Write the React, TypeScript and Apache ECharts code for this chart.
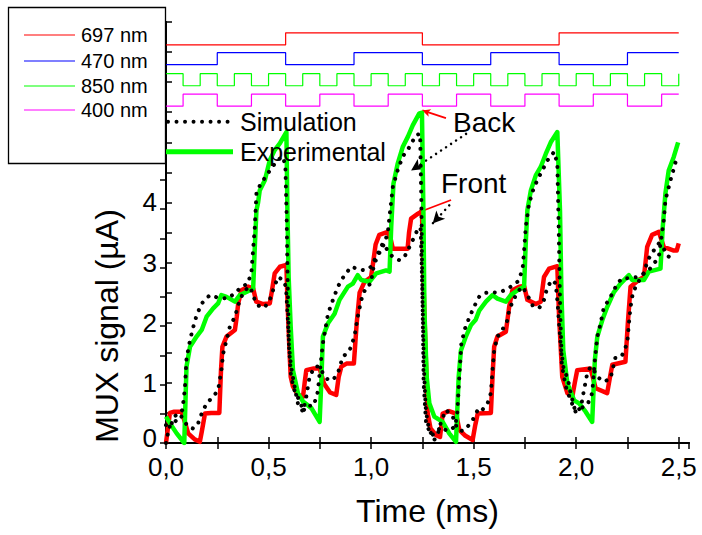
import React, { useEffect, useRef } from "react";
import * as echarts from "echarts";

const FONT = "'Liberation Sans', Arial, Helvetica, sans-serif";

// Square-wave control signals: edge times in twelfths of a millisecond
const edges697 = [7, 15, 23];
const edges470 = [3, 7, 11, 15, 19, 23, 27];
const edges850 = [1, 2, 3, 4, 5, 6, 7, 8, 9, 10, 11, 12, 13, 14, 15, 16, 17, 18, 19, 20, 21, 22, 23, 24, 25, 26, 27, 28, 29, 30];
const edges400 = [1, 3, 5, 7, 9, 11, 13, 15, 17, 19, 21, 23, 25, 27, 29];
const start697 = 0, start470 = 0, start850 = 1, start400 = 0;
// low / high levels (y units)
const levels697 = [6.62, 6.82];
const levels470 = [6.29, 6.49];
const levels850 = [5.94, 6.14];
const levels400 = [5.6, 5.8];
const waveNames = ["697 nm", "470 nm", "850 nm", "400 nm"];
const waveColors = ["#ff0000", "#0000ff", "#00ff00", "#ff00ff"];

// Experimental (Front = red, Back = green)
const frontExp: number[][] = [
  [0, 0], [0.019, 0.5], [0.04, 0.52], [0.076, 0.52], [0.092, 0.35], [0.108, 0.16], [0.14, 0.06], [0.165, 0.02],
  [0.175, 0.2], [0.19, 0.49], [0.22, 0.5], [0.26, 0.5], [0.268, 1.2], [0.275, 1.6], [0.295, 1.77], [0.336, 1.88],
  [0.345, 2.1], [0.352, 2.32], [0.368, 2.54], [0.4, 2.6], [0.425, 2.57], [0.44, 2.35], [0.473, 2.31], [0.506, 2.32],
  [0.515, 2.5], [0.53, 2.82], [0.555, 2.93], [0.587, 2.96], [0.592, 2.4], [0.6, 1.7], [0.608, 1.1], [0.619, 0.94],
  [0.643, 0.8], [0.668, 0.77], [0.676, 1.0], [0.684, 1.21], [0.72, 1.24], [0.749, 1.24], [0.77, 0.99], [0.8, 0.84],
  [0.83, 0.8], [0.842, 1.1], [0.855, 1.27], [0.88, 1.32], [0.916, 1.32], [0.93, 2.0], [0.944, 2.5], [0.968, 2.68],
  [1.0, 2.76], [1.01, 3.0], [1.022, 3.3], [1.04, 3.46], [1.081, 3.51], [1.095, 3.4], [1.106, 3.23], [1.178, 3.23],
  [1.185, 3.5], [1.195, 3.73], [1.227, 3.81], [1.248, 3.84], [1.256, 2.6], [1.265, 1.6], [1.276, 0.49], [1.29, 0.24],
  [1.317, 0.13], [1.336, 0.1], [1.343, 0.3], [1.349, 0.49], [1.38, 0.53], [1.414, 0.49], [1.43, 0.22], [1.46, 0.12],
  [1.495, 0.05], [1.508, 0.3], [1.52, 0.49], [1.584, 0.5], [1.592, 1.1], [1.6, 1.6], [1.616, 1.77], [1.657, 1.85],
  [1.665, 2.05], [1.673, 2.26], [1.689, 2.54], [1.722, 2.6], [1.746, 2.61], [1.762, 2.38], [1.803, 2.31], [1.827, 2.35],
  [1.835, 2.55], [1.843, 2.76], [1.868, 2.9], [1.908, 2.94], [1.916, 2.15], [1.932, 1.1], [1.957, 0.83], [1.981, 0.77],
  [1.993, 1.0], [2.005, 1.21], [2.07, 1.24], [2.095, 0.91], [2.151, 0.83], [2.165, 1.1], [2.176, 1.3], [2.24, 1.35],
  [2.252, 2.0], [2.265, 2.6], [2.305, 2.71], [2.33, 2.76], [2.338, 3.0], [2.346, 3.26], [2.37, 3.46], [2.403, 3.51],
  [2.427, 3.26], [2.476, 3.2], [2.49, 3.2], [2.5, 3.32],
];

const backExp: number[][] = [
  [0, 0.44], [0.019, 0.33], [0.052, 0.16], [0.089, 0.0], [0.095, 0.7], [0.1, 1.27], [0.117, 1.6], [0.149, 1.77],
  [0.174, 1.88], [0.198, 2.1], [0.23, 2.24], [0.254, 2.32], [0.27, 2.46], [0.295, 2.43], [0.336, 2.35], [0.36, 2.46],
  [0.392, 2.51], [0.425, 2.57], [0.433, 3.26], [0.441, 3.87], [0.449, 4.0], [0.457, 4.2], [0.482, 4.37], [0.506, 4.7],
  [0.53, 4.87], [0.555, 4.98], [0.587, 5.17], [0.592, 3.87], [0.598, 2.76], [0.608, 1.93], [0.619, 1.21], [0.643, 0.83],
  [0.668, 0.69], [0.709, 0.58], [0.749, 0.35], [0.757, 1.0], [0.765, 1.77], [0.79, 1.99], [0.822, 2.15], [0.846, 2.38],
  [0.887, 2.6], [0.911, 2.65], [0.935, 2.79], [0.952, 2.71], [0.992, 2.68], [1.025, 2.82], [1.073, 2.87], [1.09, 2.85],
  [1.098, 3.59], [1.109, 4.31], [1.13, 4.65], [1.154, 4.92], [1.179, 5.09], [1.203, 5.28], [1.235, 5.48], [1.248, 5.49],
  [1.255, 3.87], [1.26, 2.21], [1.271, 1.1], [1.284, 0.66], [1.308, 0.44], [1.349, 0.35], [1.381, 0.16], [1.414, 0.02],
  [1.427, 1.1], [1.438, 1.54], [1.462, 1.77], [1.487, 1.96], [1.51, 2.05], [1.527, 2.2], [1.56, 2.35], [1.592, 2.46],
  [1.616, 2.4], [1.657, 2.35], [1.681, 2.46], [1.714, 2.54], [1.746, 2.6], [1.754, 3.32], [1.762, 3.87], [1.779, 4.2],
  [1.803, 4.45], [1.827, 4.59], [1.852, 4.81], [1.876, 5.0], [1.908, 5.17], [1.921, 3.87], [1.928, 2.49], [1.937, 1.54],
  [1.957, 0.99], [1.99, 0.71], [2.014, 0.66], [2.046, 0.52], [2.078, 0.35], [2.091, 1.38], [2.103, 1.77], [2.127, 2.04],
  [2.151, 2.26], [2.184, 2.51], [2.216, 2.65], [2.257, 2.79], [2.273, 2.71], [2.33, 2.71], [2.354, 2.85], [2.411, 2.9],
  [2.422, 3.59], [2.435, 4.15], [2.451, 4.53], [2.476, 4.76], [2.497, 5.0],
];

// Simulations (dotted)
const backSim: number[][] = [
  [0, 0.3], [0.02, 0.27], [0.044, 0.45], [0.068, 0.5], [0.08, 0.55], [0.092, 0.9], [0.1, 1.4], [0.117, 1.71],
  [0.133, 1.93], [0.149, 2.12], [0.174, 2.32], [0.214, 2.46], [0.25, 2.42], [0.3, 2.4], [0.34, 2.5], [0.368, 2.6],
  [0.4, 2.65], [0.417, 2.87], [0.433, 3.59], [0.441, 4.15], [0.46, 4.3], [0.49, 4.45], [0.52, 4.6], [0.55, 4.72],
  [0.571, 4.76], [0.582, 4.59], [0.588, 3.8], [0.594, 2.5], [0.6, 1.6], [0.61, 1.1], [0.63, 0.83], [0.655, 0.69],
  [0.668, 0.52], [0.684, 0.62], [0.72, 0.62], [0.74, 0.85], [0.749, 1.16], [0.765, 1.66], [0.79, 2.15], [0.814, 2.38],
  [0.838, 2.6], [0.87, 2.79], [0.903, 2.93], [0.93, 2.9], [0.968, 2.87], [1.0, 2.93], [1.025, 3.1], [1.05, 3.2],
  [1.081, 3.48], [1.093, 3.87], [1.106, 4.26], [1.13, 4.54], [1.154, 4.76], [1.187, 4.92], [1.219, 5.12], [1.239, 5.14],
  [1.245, 4.0], [1.25, 2.5], [1.256, 1.0], [1.268, 0.33], [1.292, 0.13], [1.31, 0.15], [1.341, 0.27], [1.37, 0.2],
  [1.41, 0.27], [1.42, 0.5], [1.43, 1.1], [1.44, 1.66], [1.46, 1.93], [1.487, 2.15], [1.51, 2.32], [1.527, 2.43],
  [1.55, 2.49], [1.58, 2.51], [1.62, 2.5], [1.66, 2.55], [1.69, 2.62], [1.714, 2.68], [1.738, 2.87], [1.746, 3.2],
  [1.754, 3.59], [1.77, 3.98], [1.795, 4.26], [1.827, 4.48], [1.86, 4.7], [1.892, 4.84], [1.908, 4.65], [1.915, 3.5],
  [1.922, 2.2], [1.93, 1.3], [1.949, 0.94], [1.973, 0.71], [1.997, 0.52], [2.022, 0.58], [2.054, 0.63], [2.078, 0.83],
  [2.091, 1.38], [2.103, 1.77], [2.119, 1.99], [2.135, 2.26], [2.16, 2.38], [2.184, 2.54], [2.2, 2.65], [2.224, 2.74],
  [2.26, 2.74], [2.297, 2.76], [2.33, 2.82], [2.36, 2.9], [2.403, 3.09], [2.411, 3.32], [2.427, 3.7], [2.435, 4.04],
  [2.46, 4.37], [2.487, 4.7],
];

const frontSim: number[][] = [
  [0, 0], [0.016, 0.27], [0.036, 0.3], [0.06, 0.44], [0.075, 0.44], [0.092, 0.35], [0.108, 0.27], [0.133, 0.24],
  [0.157, 0.33], [0.174, 0.49], [0.198, 0.66], [0.23, 0.77], [0.254, 0.88], [0.27, 1.21], [0.279, 1.49], [0.295, 1.71],
  [0.311, 1.93], [0.336, 2.1], [0.36, 2.38], [0.384, 2.54], [0.41, 2.6], [0.433, 2.38], [0.457, 2.26], [0.482, 2.26],
  [0.506, 2.38], [0.522, 2.54], [0.546, 2.76], [0.571, 2.71], [0.585, 2.6], [0.595, 2.0], [0.6, 1.6], [0.61, 1.27],
  [0.63, 0.88], [0.643, 0.66], [0.668, 0.52], [0.684, 0.77], [0.7, 1.1], [0.725, 1.27], [0.749, 1.27], [0.765, 1.16],
  [0.79, 1.05], [0.814, 1.05], [0.838, 1.16], [0.862, 1.43], [0.895, 1.54], [0.919, 1.77], [0.935, 2.1], [0.952, 2.38],
  [0.976, 2.6], [1.0, 2.65], [1.008, 2.87], [1.033, 3.15], [1.057, 3.32], [1.081, 3.2], [1.106, 3.09], [1.138, 3.04],
  [1.162, 3.09], [1.187, 3.26], [1.211, 3.43], [1.232, 3.59], [1.242, 3.55], [1.25, 2.5], [1.258, 1.2], [1.266, 0.6],
  [1.276, 0.33], [1.292, 0.16], [1.308, 0.05], [1.325, 0.15], [1.341, 0.35], [1.365, 0.55], [1.398, 0.44], [1.422, 0.22],
  [1.446, 0.2], [1.47, 0.27], [1.495, 0.38], [1.52, 0.55], [1.535, 0.52], [1.568, 0.66], [1.584, 0.83], [1.592, 1.21],
  [1.6, 1.54], [1.616, 1.77], [1.64, 1.88], [1.665, 2.04], [1.673, 2.21], [1.69, 2.35], [1.714, 2.51], [1.738, 2.6],
  [1.762, 2.46], [1.787, 2.29], [1.819, 2.24], [1.843, 2.38], [1.86, 2.6], [1.884, 2.71], [1.9, 2.65], [1.91, 2.3],
  [1.925, 1.6], [1.94, 1.2], [1.957, 1.1], [1.973, 0.83], [1.99, 0.6], [1.997, 0.52], [2.022, 0.58], [2.038, 0.88],
  [2.054, 1.16], [2.07, 1.27], [2.086, 1.21], [2.103, 1.1], [2.135, 1.02], [2.167, 1.07], [2.192, 1.43], [2.224, 1.46],
  [2.249, 1.66], [2.257, 1.99], [2.265, 2.26], [2.276, 2.49], [2.297, 2.65], [2.33, 2.82], [2.346, 3.01], [2.362, 3.12],
  [2.378, 3.2], [2.403, 3.32], [2.427, 3.23], [2.443, 3.12], [2.476, 3.04],
];

// Annotation arrows (data coordinates): [from, to]
const backArrowRed = [[1.365, 5.4], [1.25, 5.53]];
const backArrowSim = [[1.463, 5.14], [1.195, 4.53]];
const frontArrowRed = [[1.39, 4.04], [1.22, 3.82]];
const frontArrowSim = [[1.381, 3.95], [1.3, 3.65]];

const xMax = 2.55;
const yMax = 7;
const yMaxRight = 7.2;
const tEnd = 2.5;

function stepData(edges: number[], start: number, levels: number[]) {
  let s = start;
  const out: number[][] = [[0, levels[s]]];
  for (const e of edges) {
    s = 1 - s;
    out.push([e / 12, levels[s]]);
  }
  if (out[out.length - 1][0] < tEnd) out.push([tEnd, levels[s]]);
  return out;
}

function isMult(v: number, step: number) {
  const r = v / step;
  return Math.abs(r - Math.round(r)) < 1e-6;
}

export default function App() {
  const ref = useRef<HTMLDivElement>(null);
  useEffect(() => {
    if (!ref.current) return;
    const chart = echarts.init(ref.current, null, { renderer: "svg" });
    const waves = [
      stepData(edges697, start697, levels697),
      stepData(edges470, start470, levels470),
      stepData(edges850, start850, levels850),
      stepData(edges400, start400, levels400),
    ];
    const axisLine = { show: true, lineStyle: { color: "#000", width: 2 } };
    const axisTick = { show: true, inside: true, length: 6, lineStyle: { color: "#000", width: 1.5 } };
    const dotStyle = { color: "#000", width: 4, type: [0.01, 8.5], cap: "round" as const };
    const arrow = (pts: number[][], color: string, dotted: boolean) => [
      { coord: pts[0], symbol: "none" },
      {
        coord: pts[1],
        symbol: "arrow",
        symbolSize: dotted ? [9, 12] : [6, 8],
        lineStyle: dotted
          ? { color, width: 2.5, type: [0.01, 6], cap: "round" }
          : { color, width: 1.8, type: "solid" },
        itemStyle: { color },
      },
    ];

    const legendY = [35, 61, 86, 110];
    const graphic: any[] = [
      {
        type: "rect",
        shape: { x: 8.5, y: 7.5, width: 157, height: 156 },
        style: { fill: "#fff", stroke: "#000", lineWidth: 1.3 },
        z: 50,
      },
    ];
    waveNames.forEach((n, i) => {
      graphic.push({
        type: "line",
        shape: { x1: 24, y1: legendY[i], x2: 75, y2: legendY[i] },
        style: { stroke: waveColors[i], lineWidth: 1.2 },
        z: 51,
      });
      graphic.push({
        type: "text",
        x: 81,
        y: legendY[i],
        style: { text: n, fontSize: 20, fontFamily: FONT, fill: "#000", verticalAlign: "middle", align: "left" },
        z: 51,
      });
    });
    graphic.push(
      {
        type: "line",
        shape: { x1: 168, y1: 121.7, x2: 230, y2: 121.7 },
        style: { stroke: "#000", lineWidth: 4, lineDash: [0.01, 8.5], lineCap: "round" },
        z: 51,
      },
      {
        type: "text",
        x: 240,
        y: 122,
        style: { text: "Simulation", fontSize: 25, fontFamily: FONT, fill: "#000", verticalAlign: "middle" },
        z: 51,
      },
      {
        type: "line",
        shape: { x1: 166, y1: 151.7, x2: 233, y2: 151.7 },
        style: { stroke: "#00ff00", lineWidth: 5 },
        z: 51,
      },
      {
        type: "text",
        x: 240,
        y: 152,
        style: { text: "Experimental", fontSize: 25, fontFamily: FONT, fill: "#000", verticalAlign: "middle" },
        z: 51,
      },
      {
        type: "text",
        x: 453,
        y: 122,
        style: { text: "Back", fontSize: 28, fontFamily: FONT, fill: "#000", verticalAlign: "middle" },
        z: 51,
      },
      {
        type: "text",
        x: 441,
        y: 183,
        style: { text: "Front", fontSize: 28, fontFamily: FONT, fill: "#000", verticalAlign: "middle" },
        z: 51,
      },
      {
        // y-axis title, placed where the reference shows it (below the legend box)
        type: "text",
        x: 107,
        y: 326,
        rotation: Math.PI / 2,
        style: {
          text: "MUX signal (µA)",
          fontSize: 32,
          fontFamily: FONT,
          fill: "#000",
          align: "center",
          verticalAlign: "middle",
        },
        z: 51,
      }
    );

    chart.setOption({
      animation: false,
      backgroundColor: "#fff",
      textStyle: { fontFamily: FONT },
      grid: { left: 166, right: 13, top: 22, bottom: 92, containLabel: false, outerBoundsMode: "none" },
      xAxis: [
        {
          type: "value",
          min: 0,
          max: xMax,
          interval: 0.25,
          position: "bottom",
          name: "Time (ms)",
          nameLocation: "middle",
          nameGap: 52,
          nameTextStyle: { fontSize: 32, color: "#000", fontFamily: FONT },
          axisLine,
          axisTick,
          splitLine: { show: false },
          axisLabel: {
            color: "#000",
            fontSize: 26,
            lineHeight: 20,
            fontFamily: FONT,
            margin: 14,
            showMaxLabel: false,
            formatter: (v: number) => (isMult(v, 0.5) && v <= 2.5001 ? v.toFixed(1).replace(".", ",") : ""),
          },
        },
        {
          type: "value",
          min: 0,
          max: xMax,
          interval: 0.25,
          position: "top",
          axisLine,
          axisTick,
          splitLine: { show: false },
          axisLabel: { show: false },
        },
      ],
      yAxis: [
        {
          type: "value",
          min: 0,
          max: yMax,
          interval: 0.5,
          position: "left",
          axisLine,
          axisTick,
          splitLine: { show: false },
          axisLabel: {
            color: "#000",
            fontSize: 26,
            lineHeight: 20,
            fontFamily: FONT,
            margin: 9,
            formatter: (v: number) => {
              if (!(isMult(v, 1) && v <= 4.001)) return "";
              const s = String(Math.round(v));
              return v === 0 ? "{lift|" + s + "}" : s;
            },
            rich: {
              lift: { fontSize: 26, fontFamily: FONT, color: "#000", lineHeight: 20, padding: [0, 0, 10, 0] },
            },
          },
        },
        {
          type: "value",
          min: 0,
          max: yMaxRight,
          interval: 0.5,
          position: "right",
          axisLine,
          axisTick,
          splitLine: { show: false },
          axisLabel: { show: false },
        },
      ],
      graphic,
      series: [
        ...waves.map((d, i) => ({
          type: "line",
          name: waveNames[i],
          data: d,
          step: "end",
          showSymbol: false,
          symbol: "none",
          lineStyle: { color: waveColors[i], width: 1.2 },
          z: 3,
        })),
        {
          type: "line",
          name: "Front",
          data: frontExp,
          showSymbol: false,
          symbol: "none",
          lineStyle: { color: "#ff0000", width: 4.5, join: "round" },
          z: 4,
        },
        {
          type: "line",
          name: "Back",
          data: backExp,
          showSymbol: false,
          symbol: "none",
          lineStyle: { color: "#00ff00", width: 4.5, join: "round" },
          z: 5,
        },
        {
          type: "line",
          name: "Front simulation",
          data: frontSim,
          showSymbol: false,
          symbol: "none",
          lineStyle: dotStyle,
          z: 6,
        },
        {
          type: "line",
          name: "Back simulation",
          data: backSim,
          showSymbol: false,
          symbol: "none",
          lineStyle: dotStyle,
          z: 7,
          markLine: {
            silent: true,
            animation: false,
            label: { show: false },
            data: [
              arrow(backArrowRed, "#ff0000", false),
              arrow(backArrowSim, "#000", true),
              arrow(frontArrowRed, "#ff0000", false),
              arrow(frontArrowSim, "#000", true),
            ],
          },
        },
      ],
    });
    return () => chart.dispose();
  }, []);
  return (
    <div
      ref={ref}
      style={{ position: "fixed", left: 0, top: 0, width: 702, height: 535, background: "#fff" }}
    />
  );
}
